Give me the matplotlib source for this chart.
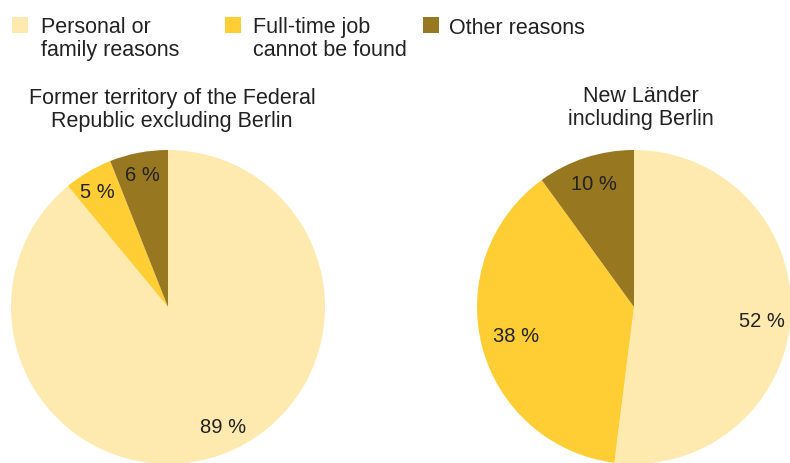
import numpy as np
import matplotlib.pyplot as plt
from matplotlib.patches import Rectangle

plt.rcParams['font.family'] = ['Liberation Sans', 'DejaVu Sans']

# data
categories = ['Personal or\nfamily reasons', 'Full-time job\ncannot be found', 'Other reasons']
west_values = [89, 5, 6]
east_values = [52, 38, 10]
west_title = 'Former territory of the Federal\nRepublic excluding Berlin'
east_title = 'New Länder\nincluding Berlin'

colors = ['#FEE9AF', '#FFCD34', '#977720']
txt = '#222222'
W, H = 790, 464

fig = plt.figure(figsize=(7.9, 4.64), dpi=100)


def draw_pie(cx, cy, r, values, title, tx, ty, dist, nudge):
    # axes box in pixels -> figure fraction
    ax = fig.add_axes([(cx - r) / W, (H - cy - r) / H, 2 * r / W, 2 * r / H])
    wedges, texts = ax.pie(values, colors=colors, startangle=90, counterclock=False,
                           wedgeprops=dict(linewidth=0))
    ax.set_xlim(-1, 1)
    ax.set_ylim(-1, 1)
    ax.set_aspect('auto')
    ax.axis('off')
    for w, v, d, n in zip(wedges, values, dist, nudge):
        ang = np.deg2rad((w.theta1 + w.theta2) / 2 + n)
        ax.text(d * np.cos(ang), d * np.sin(ang), f'{v} %', ha='center', va='center',
                fontsize=14.5, color=txt)
    fig.text(tx / W, 1 - ty / H, title, ha='center', va='center', fontsize=15.5,
             color=txt, linespacing=1.1)


draw_pie(168, 308, 157, west_values, west_title, 172, 110, [0.84, 0.86, 0.86], [5, 1, 0])
draw_pie(634, 308, 157, east_values, east_title, 641, 108, [0.82, 0.77, 0.83], [-2.5, -1, 0])

# legend
patch_x = [12, 225, 423]
text_x = [41, 253, 449]
for i, lab in enumerate(categories):
    fig.add_artist(Rectangle((patch_x[i] / W, 1 - 34 / H), 16 / W, 16 / H,
                             transform=fig.transFigure, color=colors[i], lw=0))
    ty = 39 if '\n' in lab else 28
    fig.text(text_x[i] / W, 1 - ty / H, lab, ha='left', va='center', fontsize=15.5,
             color=txt, linespacing=1.1)

fig.savefig('out.png', dpi=100, facecolor='white')
